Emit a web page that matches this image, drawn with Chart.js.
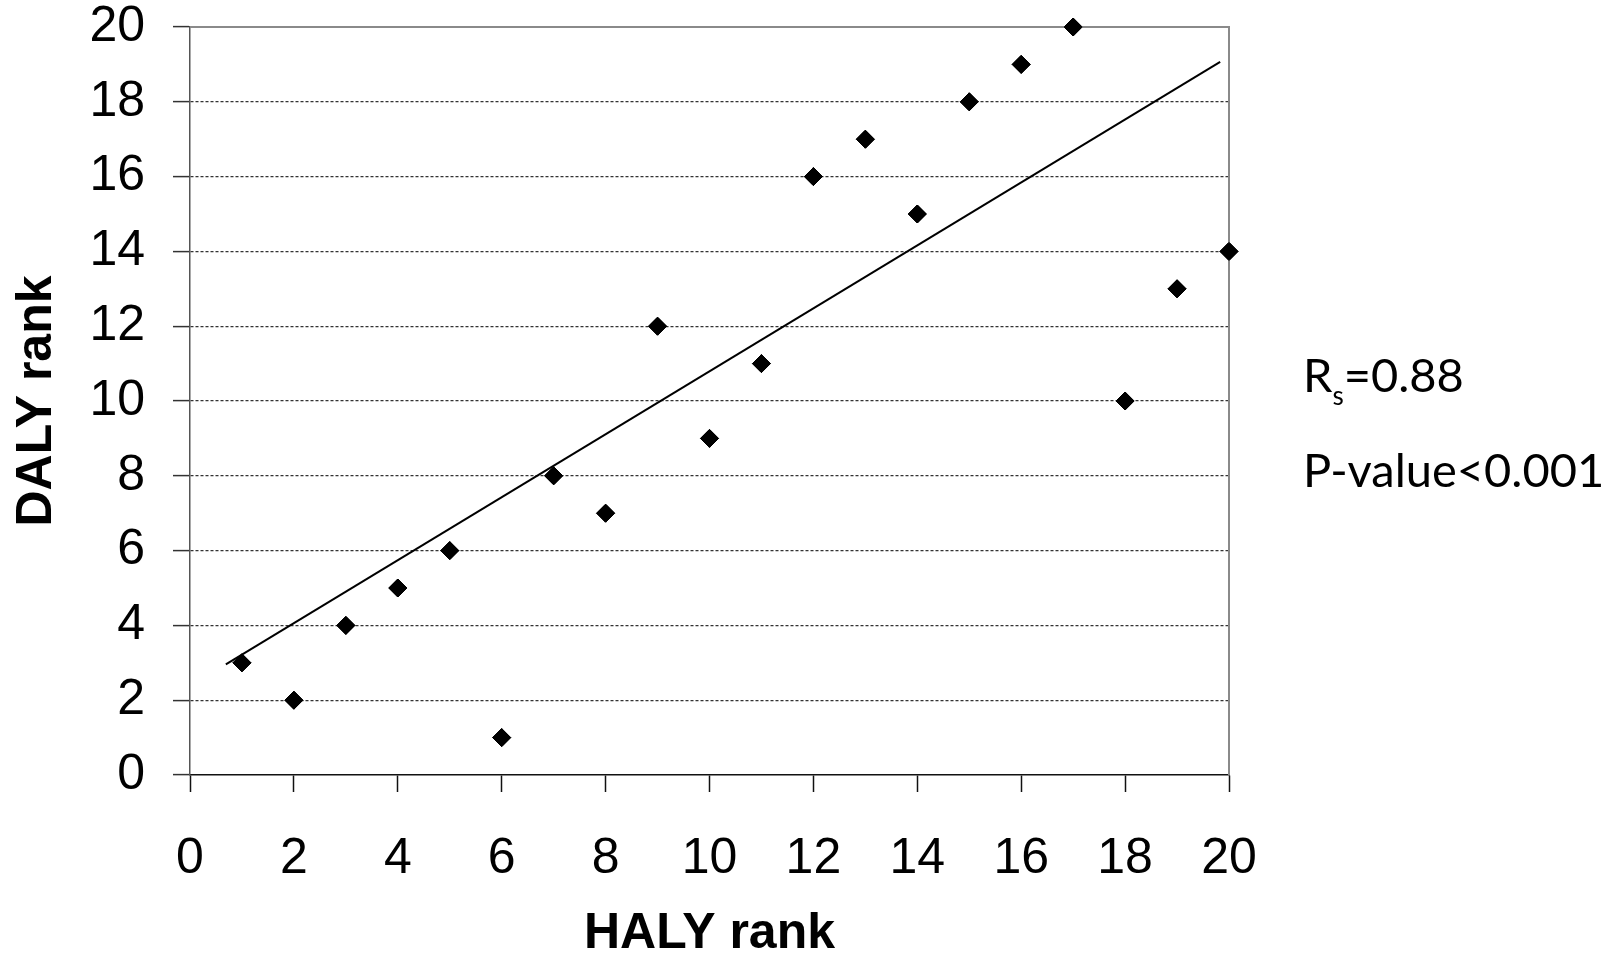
<!DOCTYPE html>
<html><head><meta charset="utf-8">
<script src="https://cdn.jsdelivr.net/npm/chart.js@4.4.0/dist/chart.umd.min.js"></script>
<style>html,body{margin:0;padding:0;background:#fff;}canvas{display:block;}</style>
</head><body>
<canvas id="c" width="1624" height="954"></canvas>
<script>
// ---- data ----
const halyRank = [1, 2, 3, 4, 5, 6, 7, 8, 9, 10, 11, 12, 13, 14, 15, 16, 17, 18, 19, 20];
const dalyRank = [3, 2, 4, 5, 6, 1, 8, 7, 12, 9, 11, 16, 17, 15, 18, 19, 20, 10, 13, 14];
const trendX = [0.69, 19.83];
const trendY = [2.96, 19.07];
const axisMin = 0, axisMax = 20, axisStep = 2;
const xTitle = 'HALY rank';
const yTitle = 'DALY rank';
const rsMain = 'R', rsSub = 's', rsValue = '=0.88';
const pText = 'P-value<0.001';

const points = halyRank.map((x, i) => ({x: x, y: dalyRank[i]}));
const trend = trendX.map((x, i) => ({x: x, y: trendY[i]}));

const frame = {
  id: 'frame',
  afterDatasetsDraw(chart) {
    const {ctx, chartArea: a} = chart;
    ctx.save();
    ctx.strokeStyle = '#8a8a8a';
    ctx.lineWidth = 2;
    ctx.beginPath();
    ctx.moveTo(a.left, a.top);
    ctx.lineTo(a.right, a.top);
    ctx.lineTo(a.right, a.bottom);
    ctx.stroke();
    ctx.restore();
    // redraw points above the frame
    const meta = chart.getDatasetMeta(0);
    meta.data.forEach(p => p.draw(ctx));
  },
  afterDraw(chart) {
    const ctx = chart.ctx;
    ctx.save();
    ctx.fillStyle = '#000';
    ctx.textBaseline = 'alphabetic';
    ctx.textAlign = 'left';
    const x0 = 1303;
    ctx.font = '47px Lato';
    ctx.fillText(rsMain, x0, 392);
    let x = x0 + ctx.measureText(rsMain).width;
    ctx.font = '26px Lato';
    ctx.fillText(rsSub, x, 405);
    x += ctx.measureText(rsSub).width;
    ctx.font = '47px Lato';
    ctx.fillText(rsValue, x, 392);
    ctx.fillText(pText, x0, 487);
    ctx.restore();
  }
};

new Chart(document.getElementById('c'), {
  type: 'scatter',
  data: {
    datasets: [
      {
        data: points,
        pointStyle: 'rectRot',
        pointRadius: 9,
        pointHoverRadius: 9,
        backgroundColor: '#000',
        borderColor: '#000',
        borderWidth: 1,
        clip: false,
        order: 1
      },
      {
        type: 'line',
        data: trend,
        borderColor: '#000',
        borderWidth: 2,
        pointRadius: 0,
        fill: false,
        order: 2
      }
    ]
  },
  options: {
    responsive: false,
    devicePixelRatio: 1,
    animation: false,
    events: [],
    layout: {padding: {left: 0, right: 395, top: 27, bottom: 0}},
    plugins: {legend: {display: false}, tooltip: {enabled: false}},
    scales: {
      x: {
        type: 'linear',
        min: axisMin, max: axisMax,
        afterFit(s) { s.height = 179; s.paddingLeft = 0; s.paddingRight = 0; },
        ticks: {stepSize: axisStep, color: '#000', padding: 37, maxRotation: 0,
                font: {family: 'Liberation Sans, Arial, sans-serif', size: 50}},
        grid: {drawOnChartArea: false, drawTicks: true, tickLength: 17, tickColor: '#111', tickWidth: 1.5},
        border: {color: '#111', width: 1.5},
        title: {display: true, text: xTitle, color: '#000', padding: 2,
                font: {family: 'Liberation Sans, Arial, sans-serif', size: 50, weight: 'bold', lineHeight: 0.7}}
      },
      y: {
        type: 'linear',
        min: axisMin, max: axisMax,
        afterFit(s) { s.width = 190; s.paddingTop = 0; s.paddingBottom = 0; },
        ticks: {stepSize: axisStep, color: '#000', padding: 28,
                font: {family: 'Liberation Sans, Arial, sans-serif', size: 50, lineHeight: 1.08}},
        grid: {
          drawTicks: true, tickLength: 17, tickColor: '#333', tickWidth: 1.5, lineWidth: 1.2,
          color: (c) => (c.tick && (c.tick.value === axisMin || c.tick.value === axisMax)) ? 'rgba(0,0,0,0)' : '#333'
        },
        border: {color: '#555', width: 1.5, dash: [3, 2]},
        title: {display: true, text: yTitle, color: '#000', padding: 12,
                font: {family: 'Liberation Sans, Arial, sans-serif', size: 50, weight: 'bold', lineHeight: 1.0}}
      }
    }
  },
  plugins: [frame]
});
</script>
</body></html>
